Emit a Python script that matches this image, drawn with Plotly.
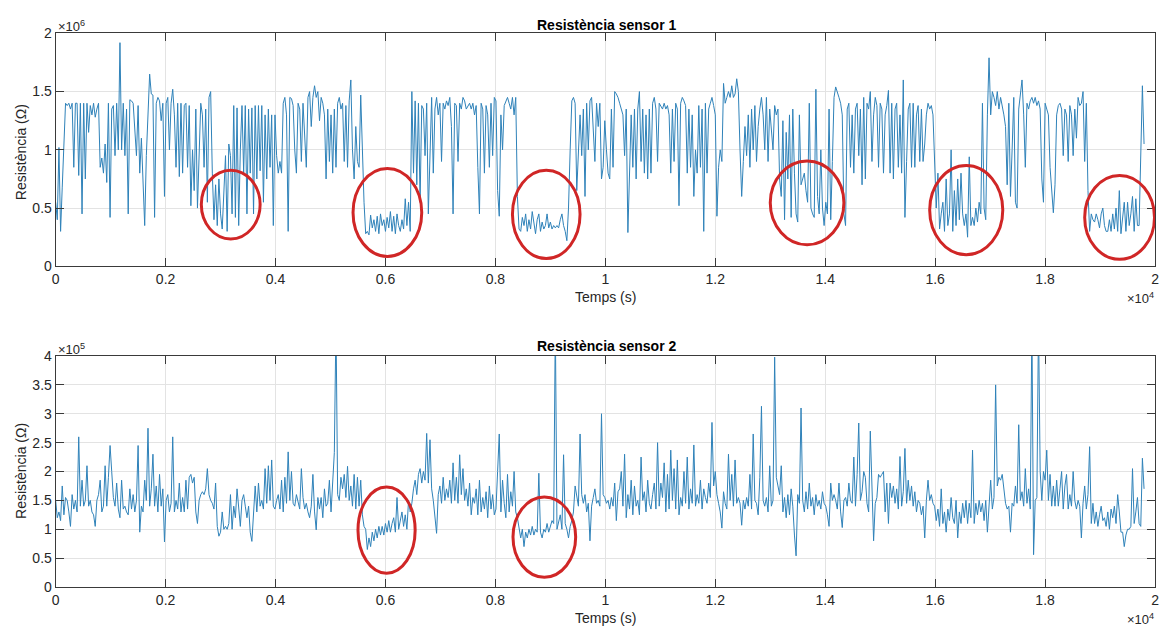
import numpy as np
import plotly.graph_objects as go

# ---------------- data ----------------
SAMPLE_STEP_S = 30  # seconds between consecutive samples

# Sensor 1 resistance, in units of 1e6 ohm
sensor1_part1 = [
    0.55, 0.40, 1.02, 0.30, 0.68, 1.00, 1.40, 1.38, 1.40, 1.35,
    1.40, 0.85, 1.40, 1.40, 0.78, 1.40, 0.45, 1.40, 0.75, 1.40,
    1.15, 1.38, 1.30, 1.40, 1.28, 1.35, 1.40, 0.85, 0.93, 0.80,
    1.05, 0.72, 1.40, 0.42, 1.35, 1.38, 0.95, 1.40, 1.00, 1.92,
    1.00, 1.40, 0.95, 1.35, 0.45, 1.43, 1.42, 1.40, 1.20, 0.95,
    1.38, 0.80, 1.10, 0.78, 0.35, 0.95, 1.40, 1.65, 1.48, 1.47,
    0.42, 1.40, 1.45, 1.42, 1.25, 1.40, 0.60, 1.40, 1.45, 1.00,
    1.40, 1.52, 1.30, 0.85, 1.40, 0.77, 1.40, 0.80, 1.38, 1.40,
    0.85, 1.38, 0.52, 1.00, 0.65, 1.35, 0.50, 1.05, 1.40, 1.30,
    0.85, 1.35, 0.55, 1.45, 1.50, 0.80, 0.40, 0.70, 0.35, 0.75,
    0.45, 0.32, 0.60, 0.95, 0.30, 1.05, 0.95, 0.45, 1.38, 0.42,
    1.36, 0.35, 1.00, 1.38, 0.80, 1.38, 0.45, 1.35, 0.80, 1.36,
    0.45, 1.38, 0.75, 1.38, 0.82, 1.38, 0.55, 1.30, 0.75, 1.35,
    0.85, 1.30, 0.35, 1.30, 0.95, 0.80, 0.90, 0.80, 1.40, 1.45,
    1.30, 0.30, 1.45, 1.44, 1.38, 1.00, 0.80, 1.40, 1.35, 0.90,
    1.40, 1.05, 0.85, 1.45, 1.50, 1.20, 1.45, 1.55, 1.45, 1.50,
    1.25, 1.45, 1.40, 1.30, 0.75,
]
sensor1_part2 = [
    1.35, 0.90, 1.30, 0.80, 1.35, 0.85, 1.40, 1.45, 1.35, 1.40,
    0.90, 1.38, 0.85, 1.42, 1.60, 1.00, 0.75, 1.20, 0.90, 0.85,
    1.47, 1.00, 0.55, 0.28,
    0.30, 0.27, 0.44, 0.33, 0.40, 0.30, 0.43, 0.28, 0.45, 0.35,
    0.40, 0.30, 0.42, 0.33, 0.47, 0.30, 0.43, 0.28, 0.45, 0.35,
    0.30, 0.40, 0.32, 0.58, 0.35, 0.55, 0.30,
    1.50, 0.80, 1.42, 0.70, 1.40, 0.55, 1.38, 1.35, 0.95, 1.40,
    0.45, 1.00, 1.45, 0.80, 1.35, 1.45, 1.30, 1.40, 0.90, 1.40,
    1.35, 1.42, 1.38, 1.45, 1.20, 0.45, 1.40, 1.38, 0.90, 1.40,
    1.35, 1.45, 1.42, 1.35, 1.38, 1.40, 1.35, 1.40, 1.30, 1.38,
    0.85, 0.45, 1.40, 1.35, 0.80, 1.38, 1.30, 0.85, 1.40, 0.95,
    1.45, 1.42, 0.65, 0.43, 1.30, 1.00, 1.38, 1.42, 1.45, 1.40,
    1.35, 1.45, 1.30, 1.45, 0.60,
    0.32, 0.30, 0.42, 0.35, 0.45, 0.30, 0.40, 0.32, 0.47, 0.35,
    0.28, 0.40, 0.45, 0.30, 0.38, 0.32, 0.35, 0.45, 0.33, 0.38,
    0.32, 0.35, 0.33, 0.35, 0.33, 0.40, 0.45, 0.35, 0.30, 0.22,
    0.50, 1.00, 1.42, 1.45, 1.40, 0.65, 1.00, 1.30, 0.95, 1.35,
    0.60, 1.40, 1.00, 1.42, 1.45, 1.10, 0.90, 1.40, 1.20,
]
sensor1_part3 = [
    1.40, 0.75, 0.85, 1.25, 1.00, 0.80, 0.75, 1.35, 0.85, 1.50,
    1.48, 1.45, 1.40, 1.35, 1.30, 0.95, 1.35, 0.29, 0.75, 1.30,
    0.85, 1.35, 0.75, 1.35, 1.50, 0.90, 1.35, 0.80, 1.30, 0.75,
    1.35, 0.80, 1.40, 1.45, 1.35, 0.90, 1.40, 1.38, 1.35, 1.40,
    1.35, 1.38, 1.30, 0.80, 1.35, 0.90, 1.40, 1.35, 0.52, 1.40,
    1.45, 1.42, 1.38, 0.80, 1.35, 0.85, 1.30, 0.60, 1.00, 0.80,
    1.38, 0.85, 1.35, 0.30, 1.40, 0.80, 1.35, 1.40, 1.45, 1.38,
    1.30, 0.43, 0.85, 1.00, 0.90, 1.57, 1.40, 1.45, 1.50, 1.45,
    1.55, 1.45, 1.48, 1.61, 1.50, 1.00, 0.60, 0.90, 1.20, 0.95,
    1.30, 0.85, 1.35, 1.00, 1.38, 0.90, 1.20, 1.35, 1.45, 1.30,
    1.00, 1.45, 0.90, 1.35, 1.20, 1.00, 1.38, 1.30, 1.35, 0.75,
    0.60, 1.25, 0.40, 1.15, 0.75, 1.30, 0.42, 1.35, 0.80, 0.45,
    0.38, 1.30, 0.70, 0.75, 0.80, 0.65, 0.55, 1.40, 0.50, 0.45,
    0.42, 1.52, 0.60, 0.45, 1.00, 0.50, 0.35, 0.55, 0.45, 1.35,
    0.40, 0.90, 1.45, 1.54, 1.50, 1.45, 1.40, 1.30, 0.45, 0.35,
    1.35, 1.40, 0.85, 1.30, 0.80, 1.35, 1.40, 0.95, 1.35, 0.70,
    1.45, 0.75, 1.40, 1.35, 1.50, 0.90, 1.30, 1.45,
]
sensor1_part4 = [
    1.38, 0.85, 1.40, 1.35, 0.80, 1.30, 1.38, 1.51, 0.80, 1.40,
    0.75, 1.35, 1.40, 0.85, 1.30, 0.80, 1.60, 0.42, 0.90, 1.35,
    1.40, 0.85, 1.40, 0.85, 1.30, 1.38, 0.90, 1.35, 0.90, 1.05,
    1.30, 1.40, 1.35, 1.38, 1.30, 0.95, 0.50, 0.80, 0.32, 0.45,
    0.55, 0.30, 0.75, 0.35, 0.45, 1.00, 0.30, 0.65, 0.35, 0.75,
    0.40, 0.80, 0.45, 0.35, 0.45, 0.25, 0.94, 0.35, 0.42, 0.35,
    0.50, 0.38, 0.55, 0.45, 1.40, 0.50, 0.40, 1.30, 1.79, 1.30,
    1.50, 1.45, 1.38, 1.50, 1.35, 1.45, 1.38, 1.30, 1.20, 0.70,
    1.40, 0.60, 1.00, 1.45, 0.55, 0.50, 1.35, 1.50, 1.60, 1.30,
    0.85, 1.40, 1.35, 1.42, 1.45, 1.40, 1.45, 1.38, 1.42, 1.35,
    0.75, 0.55, 1.40, 1.35, 1.30, 0.85, 0.65, 0.46, 0.70, 1.30,
    1.38, 1.40, 1.35, 0.95, 1.35, 1.30, 0.90, 1.38, 1.30, 0.95,
    1.35, 1.10, 1.45, 1.38, 1.40, 1.50, 0.90, 1.40, 0.65, 0.30,
    0.45, 0.40, 0.38, 0.45, 0.40, 0.33, 0.45, 0.50, 0.35, 0.30,
    0.30, 0.40, 0.30, 0.45, 0.32, 0.50, 0.30, 0.65, 0.28, 0.45,
    0.55, 0.30, 0.55, 0.35, 0.45, 0.60, 0.30, 0.58, 0.35, 0.35,
    1.00, 1.55, 1.05,
]

# Sensor 2 resistance, in units of 1e5 ohm
sensor2_part1 = [
    1.50, 1.20, 1.30, 1.15, 1.75, 1.25, 1.55, 1.50, 1.30, 1.05, 1.60,
    1.35, 1.50, 1.30, 2.60, 1.40, 1.85, 1.40, 1.50, 2.10,
    1.40, 1.50, 1.30, 1.25, 1.05, 1.50, 1.60, 1.85, 1.30, 1.40,
    2.10, 1.40, 1.90, 2.45, 2.00, 1.55, 1.40, 1.80, 1.35, 1.20,
    1.85, 1.35, 1.40, 1.30, 1.25, 1.70, 1.35, 1.60, 1.30, 1.50,
    2.45, 0.95, 1.40, 1.30, 1.85, 1.50, 2.75, 1.40, 1.70, 2.30,
    1.40, 1.75, 1.30, 1.95, 1.40, 1.70, 0.78, 1.50, 1.60, 1.30,
    1.45, 2.60, 1.30, 1.50, 1.35, 1.80, 1.30, 1.55, 1.30, 1.85,
    1.35, 1.90, 1.95, 1.80, 1.90, 1.30, 1.10, 1.50, 1.60, 1.65,
    1.60, 1.70, 2.05, 1.60, 1.50, 1.45, 1.35, 1.80, 1.05, 0.88,
    0.95, 1.30, 1.00, 1.05, 1.00, 1.10, 1.60, 1.00, 1.40, 1.20,
    1.70, 1.30, 1.05, 1.50, 1.60, 1.40, 1.20, 1.40, 0.95, 0.79,
    1.30, 1.75, 1.30, 1.80, 1.40, 1.50, 1.35, 2.05, 1.45, 2.10,
    1.50, 2.20, 1.40, 1.35, 1.50, 1.60, 1.35, 1.85, 1.30, 1.90,
    1.45, 2.34, 1.50, 2.00, 1.45, 1.40, 1.60, 1.45, 1.35, 2.05,
    1.55, 1.35, 1.45, 1.30, 1.20, 1.40, 1.95, 1.30, 0.99, 1.55,
    1.35,
]
sensor2_part2 = [
    1.55, 1.20, 1.70, 1.40, 1.45, 1.85, 1.30, 1.75, 2.33,
    4.60,
    1.60, 1.50, 1.90, 1.70, 1.95, 1.55, 2.09, 1.50, 1.75, 1.40,
    1.95, 1.35, 1.90, 1.40, 1.85, 1.25,
    1.05, 1.00, 0.65, 0.85, 0.70, 0.95, 0.80, 1.00, 0.85, 1.05,
    0.90, 1.05, 0.90, 1.10, 0.95, 1.15, 0.95, 1.10, 1.20, 0.95,
    1.55, 1.00, 1.15, 1.30, 1.05, 1.25, 1.00, 1.50, 1.30, 1.45,
    1.70, 1.85, 1.60, 1.95, 2.05, 1.80, 2.00, 1.85, 2.66, 1.80,
    2.55, 1.70, 1.50,
    1.25, 0.93, 1.60, 1.75, 1.45, 1.90, 1.50, 1.70, 1.55, 1.85,
    1.45, 2.15, 1.50, 1.90, 1.45, 2.29, 1.60, 2.05, 1.50, 1.70,
    1.40, 1.80, 1.25, 1.55, 1.45, 1.70, 1.25, 1.85, 1.30, 1.55,
    1.35, 1.65, 1.20, 1.75, 1.35, 1.60, 1.25, 1.35, 2.00, 2.65,
    1.30, 1.85, 1.45, 1.20, 1.95, 1.30, 1.65, 1.40, 2.00, 1.30,
    1.20,
    1.00, 0.85, 1.00, 0.70, 0.95, 0.85, 1.00, 0.90, 1.05, 0.90,
    1.00, 0.95, 1.97, 0.95, 0.85, 1.00, 0.95, 1.10, 0.95, 1.05,
    1.15, 1.10,
    4.60,
    1.00, 1.15, 1.25, 1.00, 2.29, 1.10, 1.00, 0.85, 1.05, 1.15,
    1.30, 1.75, 1.55, 1.40, 2.65, 1.60, 1.45, 1.60, 1.30, 1.45,
    0.80, 1.40, 1.55, 1.70, 1.45, 1.50,
]
sensor2_part3 = [
    1.40, 3.00, 1.60, 1.55, 1.45, 1.50, 1.35, 1.55, 1.40, 1.80,
    1.15, 1.65, 1.70, 2.00, 1.40, 2.30, 1.20, 1.60, 1.35, 1.85,
    1.25, 1.75, 1.40, 1.50, 1.25, 2.25, 1.50, 1.65, 1.30, 1.85,
    1.45, 1.35, 1.60, 1.80, 1.35, 2.50, 1.40, 1.80, 1.55, 2.15,
    1.30, 1.95, 1.35, 2.37, 1.50, 2.05, 1.35, 2.20, 1.25, 1.55,
    1.40, 2.00, 1.45, 2.25, 1.35, 1.70, 1.45, 2.46, 1.40, 1.60,
    1.45, 1.85, 1.35, 1.70, 1.55, 1.45, 1.80, 1.55, 2.85, 1.75,
    2.00, 1.60, 1.45, 1.30, 1.02, 1.65, 1.45, 1.35, 2.30, 1.50,
    1.95, 1.40, 2.20, 1.45, 1.55, 1.45, 1.07, 1.50, 1.35, 1.55,
    1.40, 1.95, 1.35, 2.65, 1.50, 1.45, 1.25, 1.90, 3.13, 1.50,
    1.40, 1.55, 1.30, 2.10, 1.40, 1.50, 3.98, 1.90, 1.75, 1.60,
    2.10, 1.30, 1.55, 1.20, 1.60, 1.25, 1.70, 1.40, 0.90, 0.54,
    1.60, 1.45, 3.10, 1.50, 1.30, 1.65, 1.35, 1.80, 1.40, 1.55,
    1.25, 1.60, 1.40, 1.50, 1.35, 1.65, 1.45, 1.40, 1.25, 1.05,
    1.80, 1.50, 1.60, 1.50, 1.35, 1.80, 1.30, 1.03, 1.50, 1.55,
    1.40, 1.80, 1.50, 1.45, 2.25, 1.40, 1.95, 2.84, 1.50, 1.65,
    2.00, 1.90, 1.45, 1.30, 2.70, 1.60, 0.80, 1.45,
]
sensor2_part4 = [
    1.55, 1.95, 1.90, 1.95, 2.00, 1.30, 1.80, 1.10, 1.80, 1.55,
    1.75, 1.45, 1.70, 1.35, 2.26, 1.40, 1.65, 2.40, 1.45, 1.85,
    1.50, 1.75, 1.40, 1.65, 1.30, 1.50, 1.45, 1.25, 1.40, 0.85,
    1.50, 1.85, 1.50, 1.60, 1.45, 1.40, 1.15, 1.35, 1.05, 1.70,
    1.10, 1.30, 0.95, 1.35, 1.15, 1.55, 1.20, 1.10, 1.50, 0.85,
    1.30, 1.10, 1.45, 1.20, 1.50, 1.10, 1.45, 1.20, 2.37, 1.10,
    1.45, 1.25, 1.50, 1.30, 1.45, 1.15, 1.50, 0.95, 1.45, 1.85,
    1.35, 1.55, 3.50, 1.75, 1.90, 1.85, 1.95, 1.65, 1.45, 1.35,
    1.40, 0.95, 1.45, 1.40, 1.75, 1.45, 2.81, 1.50, 1.65, 1.40,
    2.05, 1.45, 1.70, 1.35, 4.60, 0.56, 1.50, 1.55, 4.60, 2.00,
    1.50, 2.00, 1.85, 2.37, 1.50, 1.95, 1.40, 1.75, 1.40, 1.85,
    1.40, 1.70, 2.00, 1.35, 1.75, 1.95, 1.35, 1.60, 1.40, 2.00,
    1.50, 1.35, 1.50, 1.40, 0.85, 1.45, 1.75, 1.35, 1.60, 2.43,
    1.10, 1.45, 1.10, 1.30, 1.05, 1.25, 1.40, 1.15, 1.20, 1.05,
    1.30, 1.00, 1.35, 1.20, 1.40, 1.10, 1.60, 1.30, 0.95, 0.95,
    0.70, 0.90, 1.00, 1.00, 1.05, 2.05, 1.10, 1.30, 1.55, 1.10,
    1.05, 2.23, 1.70,
]

x_tick_vals = [0, 2000, 4000, 6000, 8000, 10000, 12000, 14000, 16000, 18000, 20000]
x_tick_text = ["0", "0.2", "0.4", "0.6", "0.8", "1", "1.2", "1.4", "1.6", "1.8", "2"]
y1_tick_vals = [0, 0.5e6, 1.0e6, 1.5e6, 2.0e6]
y1_tick_text = ["0", "0.5", "1", "1.5", "2"]
y2_tick_vals = [0, 0.5e5, 1e5, 1.5e5, 2e5, 2.5e5, 3e5, 3.5e5, 4e5]
y2_tick_text = ["0", "0.5", "1", "1.5", "2", "2.5", "3", "3.5", "4"]

# highlighted regions (ellipses): (x0, x1, y0, y1) in data units
circles_sensor1 = [
    (2650, 3720, 0.235e6, 0.825e6),
    (5410, 6660, 0.085e6, 0.840e6),
    (8310, 9540, 0.067e6, 0.825e6),
    (13000, 14340, 0.185e6, 0.905e6),
    (15900, 17230, 0.100e6, 0.865e6),
    (18720, 19990, 0.060e6, 0.780e6),
]
circles_sensor2 = [
    (5500, 6540, 0.24e5, 1.73e5),
    (8320, 9460, 0.17e5, 1.56e5),
]

# ---------------- figure ----------------
sensor1 = np.array(sensor1_part1 + sensor1_part2 + sensor1_part3 + sensor1_part4) * 1e6
sensor2 = np.array(sensor2_part1 + sensor2_part2 + sensor2_part3 + sensor2_part4) * 1e5
t1 = np.arange(len(sensor1)) * SAMPLE_STEP_S
t2 = np.arange(len(sensor2)) * SAMPLE_STEP_S

W, H = 1166, 635
FONT = "Liberation Sans, Arial, Helvetica, sans-serif"
LINE_COLOR = "#2f82b9"
AX_COLOR = "#3a3a3a"
GRID = "#e3e3e3"
RED = "#d02626"

fig = go.Figure()
fig.add_trace(go.Scatter(x=t1, y=sensor1, mode="lines", xaxis="x", yaxis="y",
                         line=dict(color=LINE_COLOR, width=1), showlegend=False))
fig.add_trace(go.Scatter(x=t2, y=sensor2, mode="lines", xaxis="x2", yaxis="y2",
                         line=dict(color=LINE_COLOR, width=1), showlegend=False))


def px_x(p):
    return p / W


def px_y(p):
    return 1 - p / H


common_axis = dict(
    showline=True, linecolor=AX_COLOR, linewidth=1, mirror="ticks",
    ticks="inside", ticklen=8, tickcolor=AX_COLOR, tickwidth=1,
    showgrid=True, gridcolor=GRID, gridwidth=1, zeroline=False,
    tickfont=dict(family=FONT, size=14, color="#262626"),
)

xdom = [px_x(52), px_x(1159)]
fig.update_layout(
    width=W, height=H,
    margin=dict(l=0, r=0, t=0, b=0),
    paper_bgcolor="white", plot_bgcolor="white",
    font=dict(family=FONT, color="#262626", size=14),
    xaxis=dict(domain=xdom, anchor="y", range=[0, 20000],
               tickvals=x_tick_vals, ticktext=x_tick_text, **common_axis),
    yaxis=dict(domain=[px_y(265), px_y(26)], anchor="x", range=[0, 2e6],
               tickvals=y1_tick_vals, ticktext=y1_tick_text, **common_axis),
    xaxis2=dict(domain=xdom, anchor="y2", range=[0, 20000],
                tickvals=x_tick_vals, ticktext=x_tick_text, **common_axis),
    yaxis2=dict(domain=[px_y(594), px_y(357)], anchor="x2", range=[0, 4e5],
                tickvals=y2_tick_vals, ticktext=y2_tick_text, **common_axis),
)

shapes = []
for (x0, x1, y0, y1) in circles_sensor1:
    shapes.append(dict(type="circle", xref="x", yref="y", x0=x0, x1=x1, y0=y0, y1=y1,
                       line=dict(color=RED, width=3)))
for (x0, x1, y0, y1) in circles_sensor2:
    shapes.append(dict(type="circle", xref="x2", yref="y2", x0=x0, x1=x1, y0=y0, y1=y1,
                       line=dict(color=RED, width=3)))
fig.update_layout(shapes=shapes)

ann = []


def add_text(text, xp, yp, size=14, bold=False, xanchor="center", yanchor="middle", angle=0,
             color="#262626"):
    ann.append(dict(text=f"<b>{text}</b>" if bold else text, x=px_x(xp), y=px_y(yp),
                    xref="paper", yref="paper", showarrow=False, xanchor=xanchor,
                    yanchor=yanchor, textangle=angle,
                    font=dict(family=FONT, size=size, color=color)))


add_text("Resistència sensor 1", 607, 17, size=14, bold=True, color="#000000")
add_text("Resistència sensor 2", 607, 347, size=14, bold=True, color="#000000")
add_text("Temps (s)", 606, 296, size=14)
add_text("Temps (s)", 606, 626, size=14)
add_text("Resistència (Ω)", 17, 148, size=14, angle=-90)
add_text("Resistència (Ω)", 17, 475, size=14, angle=-90)
add_text("×10<sup>6</sup>", 52, 18, size=13, xanchor="left")
add_text("×10<sup>5</sup>", 52, 350, size=13, xanchor="left")
add_text("×10<sup>4</sup>", 1129, 297, size=13, xanchor="left")
add_text("×10<sup>4</sup>", 1129, 627, size=13, xanchor="left")
fig.update_layout(annotations=ann)

fig.write_html("out.html")
